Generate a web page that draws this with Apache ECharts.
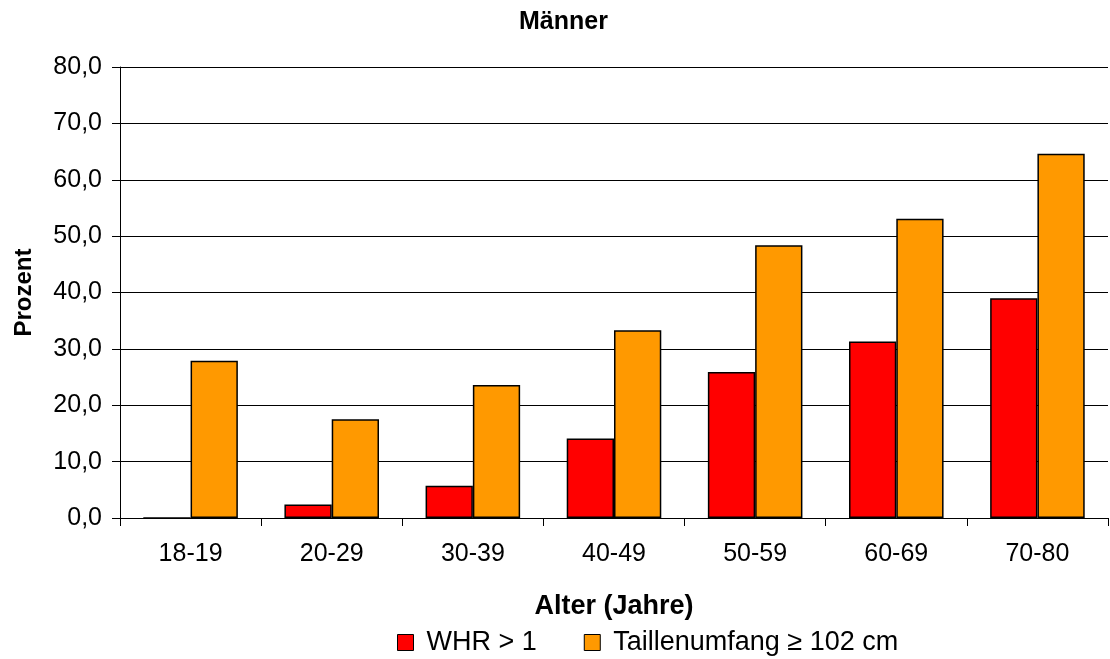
<!DOCTYPE html>
<html>
<head>
<meta charset="utf-8">
<script src="https://cdn.jsdelivr.net/npm/echarts@6/dist/echarts.min.js"></script>
<style>
html,body{margin:0;padding:0;background:#fff;}
#c{width:1110px;height:659px;}
</style>
</head>
<body>
<div id="c"></div>
<script>
const categories = ['18-19','20-29','30-39','40-49','50-59','60-69','70-80'];
const whr = [0, 2.4, 5.7, 14.1, 25.9, 31.3, 39.0];
const taille = [27.9, 17.5, 23.6, 33.3, 48.4, 53.1, 64.6];
const seriesNames = ['WHR > 1', 'Taillenumfang ≥ 102 cm'];
const titleText = 'Männer';
const xName = 'Alter (Jahre)';
const yName = 'Prozent';

const FONT = 'Liberation Sans, Arial, sans-serif';
const chart = echarts.init(document.getElementById('c'), null, {renderer:'canvas'});
chart.setOption({
  animation: false,
  backgroundColor: '#fff',
  title: {
    text: titleText,
    left: 514, top: 5, padding: 5,
    textStyle: {fontFamily: FONT, fontSize: 25, fontWeight: 'bold', color: '#000'}
  },
  legend: {
    data: seriesNames,
    left: 392, top: 624, padding: 5,
    itemWidth: 16, itemHeight: 16, itemGap: 47,
    icon: 'rect',
    itemStyle: {borderColor: '#000', borderWidth: 1},
    textStyle: {fontFamily: FONT, fontSize: 27, color: '#000', padding: [0,0,0,8]}
  },
  grid: {left: 120, right: 2, top: 67, bottom: 141, containLabel: false, outerBoundsMode: 'none'},
  xAxis: {
    type: 'category',
    data: categories,
    name: xName,
    nameLocation: 'middle',
    nameGap: 75,
    nameTextStyle: {fontFamily: FONT, fontSize: 27, fontWeight: 'bold', color: '#000'},
    axisLine: {lineStyle: {color: '#000', width: 1}},
    axisTick: {show: true, length: 8, lineStyle: {color: '#000'}},
    axisLabel: {fontFamily: FONT, fontSize: 25, color: '#000', margin: 24}
  },
  yAxis: {
    type: 'value',
    min: 0, max: 80, interval: 10,
    name: yName,
    nameLocation: 'middle',
    nameGap: 84,
    nameTextStyle: {fontFamily: FONT, fontSize: 24, fontWeight: 'bold', color: '#000'},
    axisLine: {show: true, lineStyle: {color: '#000', width: 1}},
    axisTick: {show: true, length: 8, lineStyle: {color: '#000'}},
    axisLabel: {fontFamily: FONT, fontSize: 25, color: '#000', margin: 18,
      formatter: v => v.toFixed(1).replace('.', ',')},
    splitLine: {show: true, lineStyle: {color: '#000', width: 1}}
  },
  series: [
    {
      name: seriesNames[0], type: 'bar', data: whr,
      barCategoryGap: '33%', barGap: '0%',
      itemStyle: {color: '#FF0000', borderColor: '#000', borderWidth: 1.5}
    },
    {
      name: seriesNames[1], type: 'bar', data: taille,
      barCategoryGap: '33%', barGap: '0%',
      itemStyle: {color: '#FF9900', borderColor: '#000', borderWidth: 1.5}
    }
  ]
});
</script>
</body>
</html>
